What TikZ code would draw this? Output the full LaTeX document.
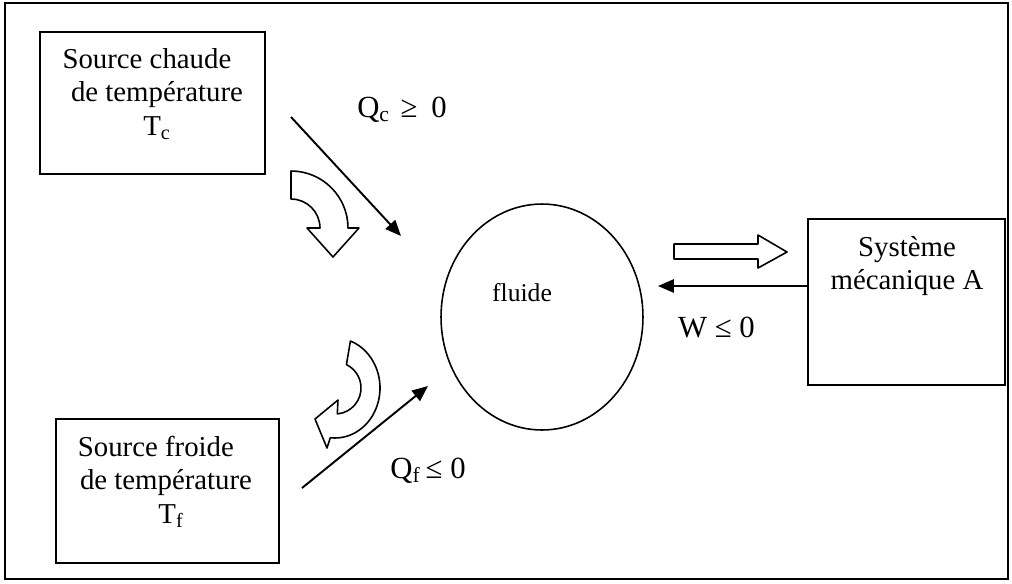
\documentclass[tikz,border=0pt]{standalone}
\usepackage{fontspec}
\setmainfont{Liberation Serif}
\usetikzlibrary{arrows.meta,shapes.geometric}

\tikzset{
  box/.style={draw, line width=1.1pt, inner sep=0pt},
  txt/.style={align=center, inner sep=0pt, font=\fontsize{16.4}{19}\selectfont},
  lbl/.style={inner sep=0pt, anchor=base, font=\fontsize{17.5}{20}\selectfont},
  flux/.style={line width=1.1pt, -{Triangle[length=9pt,width=7.5pt]}},
  hollow/.style={line width=0.9pt, line join=round, fill=white},
}

\begin{document}
\begin{tikzpicture}[x=0.02cm, y=-0.02cm]
  \useasboundingbox (0,0) rectangle (1012,583);
  \draw[line width=1.2pt] (5,3) rectangle (1008,579);

  % sources and system
  \node[box, minimum width=4.5cm, minimum height=2.84cm] (chaude) at (152.5,103) {};
  \node[box, minimum width=4.46cm, minimum height=2.88cm] (froide) at (167.5,491) {};
  \node[box, minimum width=3.94cm, minimum height=3.32cm] (meca) at (906.5,302) {};
  \node[txt] (chaudetxt) at (157,94) {Source chaude\hspace*{0.7em}\\de température\\T\textsubscript{c}};
  \node[txt] (froidetxt) at (166,482) {Source froide\hspace*{0.7em}\\de température\\\hspace*{0.35em}T\textsubscript{f}};
  \node[txt] (mecatxt) at (907,266) {Système\\mécanique A};

  % fluid
  \node[draw, ellipse, line width=0.9pt, minimum width=4.04cm, minimum height=4.52cm] (fluide) at (542,317) {};
  \node[inner sep=0pt, font=\fontsize{14.6}{17}\selectfont] (fluidetxt) at (522,293) {fluide};

  % exchanges
  \coordinate (qc0) at (291,117);
  \coordinate (qc1) at (401,236);
  \coordinate (qf0) at (302,488);
  \coordinate (qf1) at (428,386);
  \coordinate (w1) at (658,286);
  \draw[flux] (qc0) -- (qc1);
  \draw[flux] (qf0) -- (qf1);
  \draw[flux] (w1 -| meca.west) -- (w1);

  \node[lbl] (qc) at (402,117) {Q\textsubscript{c}\hspace{0.35em}≥\hspace{0.45em}0};
  \node[lbl] (w) at (716.5,337) {W ≤ 0};
  \node[lbl] (qf) at (428,478) {Q\textsubscript{f}\,≤ 0};

  % hollow arrows
  \draw[hollow] (674,244) -- (758,244) -- (758,235) -- (787,252) -- (758,268) -- (758,259) -- (674,259) -- cycle;
  \draw[hollow] (291,171) arc[start angle=-90, end angle=0, radius=57] -- (359,228) -- (333,257)
    -- (307,228) -- (320,228) arc[start angle=0, end angle=-90, radius=29] -- cycle;
  \draw[hollow] (350.4,341) arc[start angle=-70, end angle=96, x radius=45, y radius=50]
    -- (327,448) -- (315,419) -- (338,400) -- (337.3,413.9)
    arc[start angle=85, end angle=-64, radius=26] -- cycle;
\end{tikzpicture}
\end{document}
